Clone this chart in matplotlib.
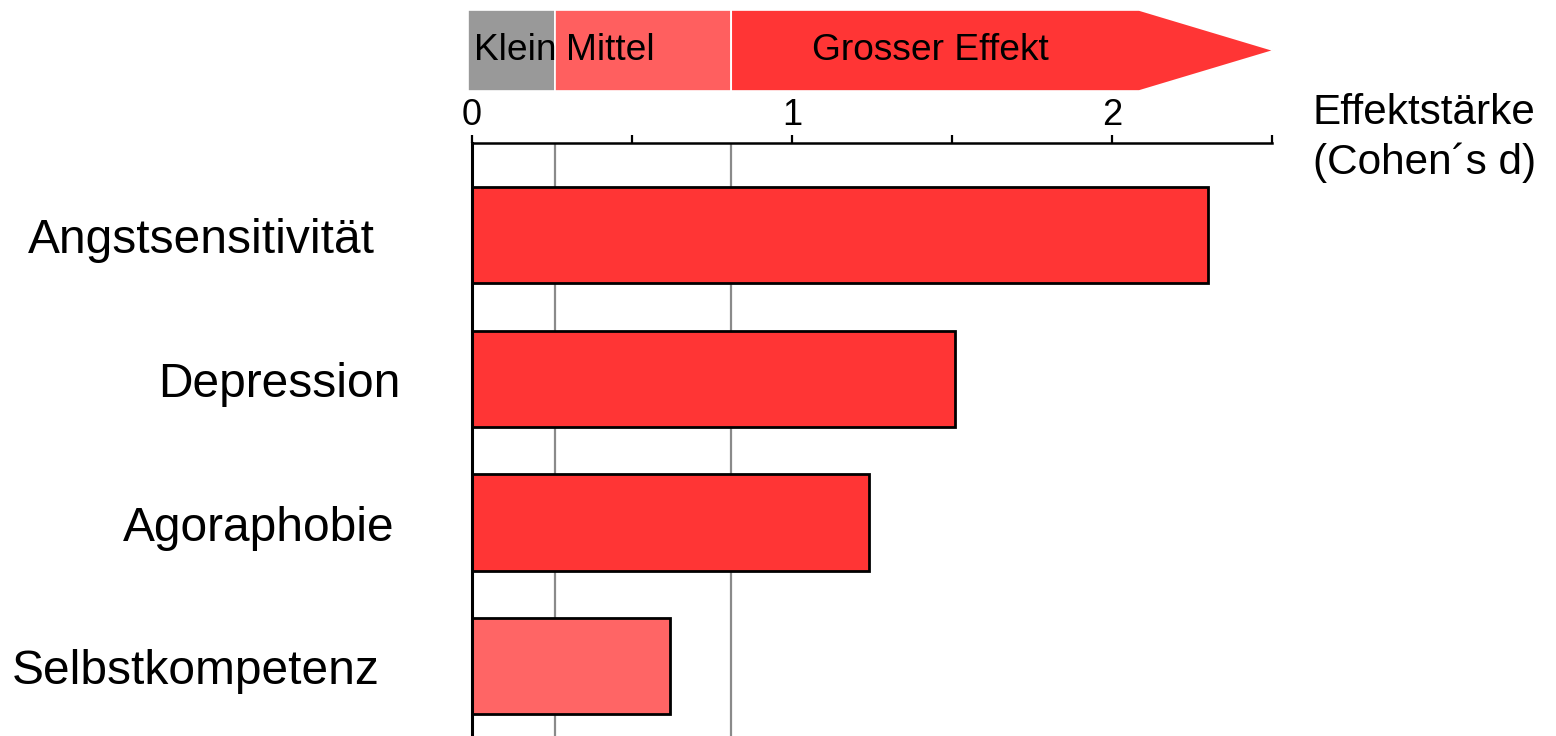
import matplotlib
matplotlib.use("Agg")
import matplotlib.pyplot as plt
from matplotlib.patches import Rectangle, Polygon
from matplotlib.transforms import blended_transform_factory

plt.rcParams["font.family"] = ["Liberation Sans", "DejaVu Sans"]

# Data
categories = ["Angstsensitivität", "Depression", "Agoraphobie", "Selbstkompetenz"]
effect_sizes = [2.30, 1.51, 1.24, 0.62]
bar_colors = ["#FF3535", "#FF3535", "#FF3535", "#FF6565"]

# Effect size bands (Cohen's d)
band_labels = ["Klein", "Mittel", "Grosser Effekt"]
band_edges = [0.0, 0.26, 0.81, 2.5]
band_colors = ["#999999", "#FF5F5F", "#FF3535"]
major_ticks = [0, 1, 2]
minor_ticks = [0.5, 1.5, 2.5]

W, H = 1556, 736
fig = plt.figure(figsize=(W / 100, H / 100), dpi=100)

x0_px, x1_px = 472, 1272
ax = fig.add_axes([x0_px / W, 0, (x1_px - x0_px) / W, 1 - 143 / H])

n = len(categories)
ypos = list(range(n))
ax.barh(ypos, effect_sizes, height=0.67, color=bar_colors,
        edgecolor="black", linewidth=2.0, zorder=3)

ax.set_xlim(0, 2.5)
ax.set_ylim(n - 1 + 0.486, -0.642)

# reference lines at band boundaries
for xv in band_edges[1:3]:
    ax.axvline(xv, color="#8a8a8a", linewidth=1.6, zorder=1)

for s in ["right", "bottom"]:
    ax.spines[s].set_visible(False)
ax.spines["left"].set_linewidth(2.2)
ax.spines["left"].set_zorder(4)
ax.spines["top"].set_linewidth(1.8)

ax.xaxis.set_ticks_position("top")
ax.xaxis.set_label_position("top")
ax.set_xticks(major_ticks)
ax.set_xticklabels([str(t) for t in major_ticks])
ax.set_xticks(minor_ticks, minor=True)
ax.tick_params(axis="x", which="both", direction="out", length=6, width=1.6,
               labelsize=26, pad=1)
ax.set_yticks([])

# category labels
label_right_px = [375, 400, 395, 380]
trans = blended_transform_factory(fig.transFigure, ax.transData)
for yi, (lab, rx) in enumerate(zip(categories, label_right_px)):
    ax.text(rx / W, yi + 0.04, lab, transform=trans, ha="right", va="center",
            fontsize=34.5)

fig.text(1313 / W, 1 - 138 / H, "Effektstärke\n(Cohen´s d)", ha="left",
         va="center", fontsize=30.4, linespacing=1.27)

# band arrow above the axis
bx = fig.add_axes([x0_px / W, 1 - 91 / H, (x1_px - x0_px) / W, 81 / H])
bx.set_xlim(0, 2.5)
bx.set_ylim(0, 1)
bx.axis("off")
bx.add_patch(Rectangle((-0.012, 0), band_edges[1] + 0.012, 1, facecolor=band_colors[0],
                       edgecolor="white", linewidth=1.2, clip_on=False))
bx.add_patch(Rectangle((band_edges[1], 0), band_edges[2] - band_edges[1], 1,
                       facecolor=band_colors[1], edgecolor="white", linewidth=1.2,
                       clip_on=False))
shaft_end = 2.085
bx.add_patch(Polygon([(band_edges[2], 0), (shaft_end, 0), (band_edges[3] + 0.007, 0.5),
                      (shaft_end, 1), (band_edges[2], 1)], closed=True,
                     facecolor=band_colors[2], edgecolor="white", linewidth=1.2,
                     clip_on=False))
text_x = [0.005, 0.295, 1.063]
for lab, tx in zip(band_labels, text_x):
    bx.text(tx, 0.5, lab, ha="left", va="center", fontsize=26.7)

fig.savefig("out.png", dpi=100)
